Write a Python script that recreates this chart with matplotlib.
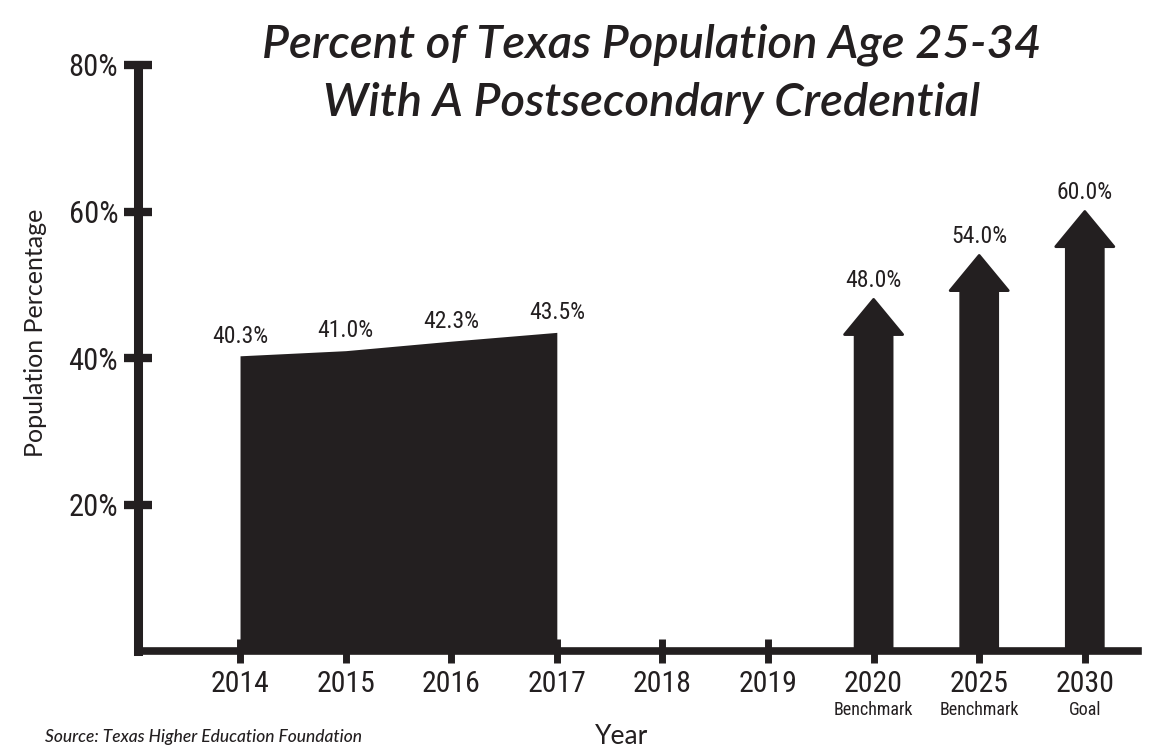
import matplotlib
matplotlib.use('Agg')
import matplotlib.pyplot as plt
import matplotlib.transforms as mtransforms
from matplotlib import font_manager
from matplotlib.patches import FancyArrow

# datos
years = ['2014', '2015', '2016', '2017', '2018', '2019', '2020', '2025', '2030']
actual_vals = [40.3, 41.0, 42.3, 43.5]          # 2014-2017
target_years = ['2020', '2025', '2030']
target_vals = [48.0, 54.0, 60.0]
target_notes = ['Benchmark', 'Benchmark', 'Goal']
yticks = [20, 40, 60, 80]

ink = '#231f20'

# buscar una fuente estrecha que esté instalada
installed = {f.name for f in font_manager.fontManager.ttflist}
narrow = [f for f in ['Liberation Sans Narrow', 'DejaVu Sans Condensed',
                      'Roboto Condensed', 'Roboto'] if f in installed]
narrow = narrow[:1] + ['DejaVu Sans']
geo = ['Lato', 'DejaVu Sans']

fig = plt.figure(figsize=(11.72, 7.49), dpi=100)
ax = fig.add_axes([137.6 / 1172, 1 - 651 / 749, 1000 / 1172, 586 / 749])

pos = list(range(len(years)))

# area negra 2014-2017
ax.fill_between(pos[:4], 0, actual_vals, color=ink, lw=0, zorder=2)
for x, v in zip(pos[:4], actual_vals):
    ax.text(x, v + 2.7, f'{v:.1f}%', ha='center', va='center',
            fontsize=17, family=narrow, color=ink)

# flechas de meta
for yr, v in zip(target_years, target_vals):
    x = years.index(yr)
    arr = FancyArrow(x, 0, 0, v, width=0.35, head_width=0.55, head_length=4.8,
                     length_includes_head=True, color=ink, lw=2,
                     joinstyle='round', zorder=2)
    ax.add_patch(arr)
    ax.text(x, v + 2.6, f'{v:.1f}%', ha='center', va='center',
            fontsize=17, family=narrow, color=ink)

ax.set_xlim(-0.97, 8.5)
ax.set_ylim(0, 80)

for s in ['top', 'right']:
    ax.spines[s].set_visible(False)
ax.spines['left'].set_linewidth(6.5)
ax.spines['bottom'].set_linewidth(5.5)
ax.spines['left'].set_color(ink)
ax.spines['bottom'].set_color(ink)
ax.spines['left'].set_bounds(0, 80)

ax.set_yticks(yticks)
ax.set_yticklabels([f'{t}%' for t in yticks], family=narrow, fontsize=22, color=ink)
ax.tick_params(axis='y', direction='inout', length=20, width=6, color=ink, pad=4)

ax.set_xticks(pos)
ax.set_xticklabels(years, family=narrow, fontsize=21.5, color=ink)
ax.tick_params(axis='x', direction='inout', length=17, width=5, color=ink, pad=5)

trans = mtransforms.blended_transform_factory(ax.transData, fig.transFigure)
for yr, note in zip(target_years, target_notes):
    ax.text(years.index(yr), 1 - 710 / 749, note, transform=trans, ha='center',
            va='center', fontsize=13, family=narrow, color=ink)

fig.text(36 / 1172, 1 - 333 / 749, 'Population Percentage', rotation=90,
         ha='center', va='center', fontsize=18, family=geo, color=ink)
fig.text(622 / 1172, 1 - 736 / 749, 'Year', ha='center', va='center',
         fontsize=19, family=geo, color=ink)
fig.text(45 / 1172, 1 - 737 / 749, 'Source: Texas Higher Education Foundation',
         ha='left', va='center', fontsize=12.5, style='italic', weight='medium',
         family=geo, color=ink)

# titulo en dos lineas
fig.text(652 / 1172, 1 - 58 / 749, 'Percent of Texas Population Age 25-34',
         ha='center', va='baseline', fontsize=34, style='italic', weight='semibold',
         family=geo, color=ink)
fig.text(652 / 1172, 1 - 116 / 749, 'With A Postsecondary Credential',
         ha='center', va='baseline', fontsize=34, style='italic', weight='semibold',
         family=geo, color=ink)

fig.savefig('out.png', dpi=100)
